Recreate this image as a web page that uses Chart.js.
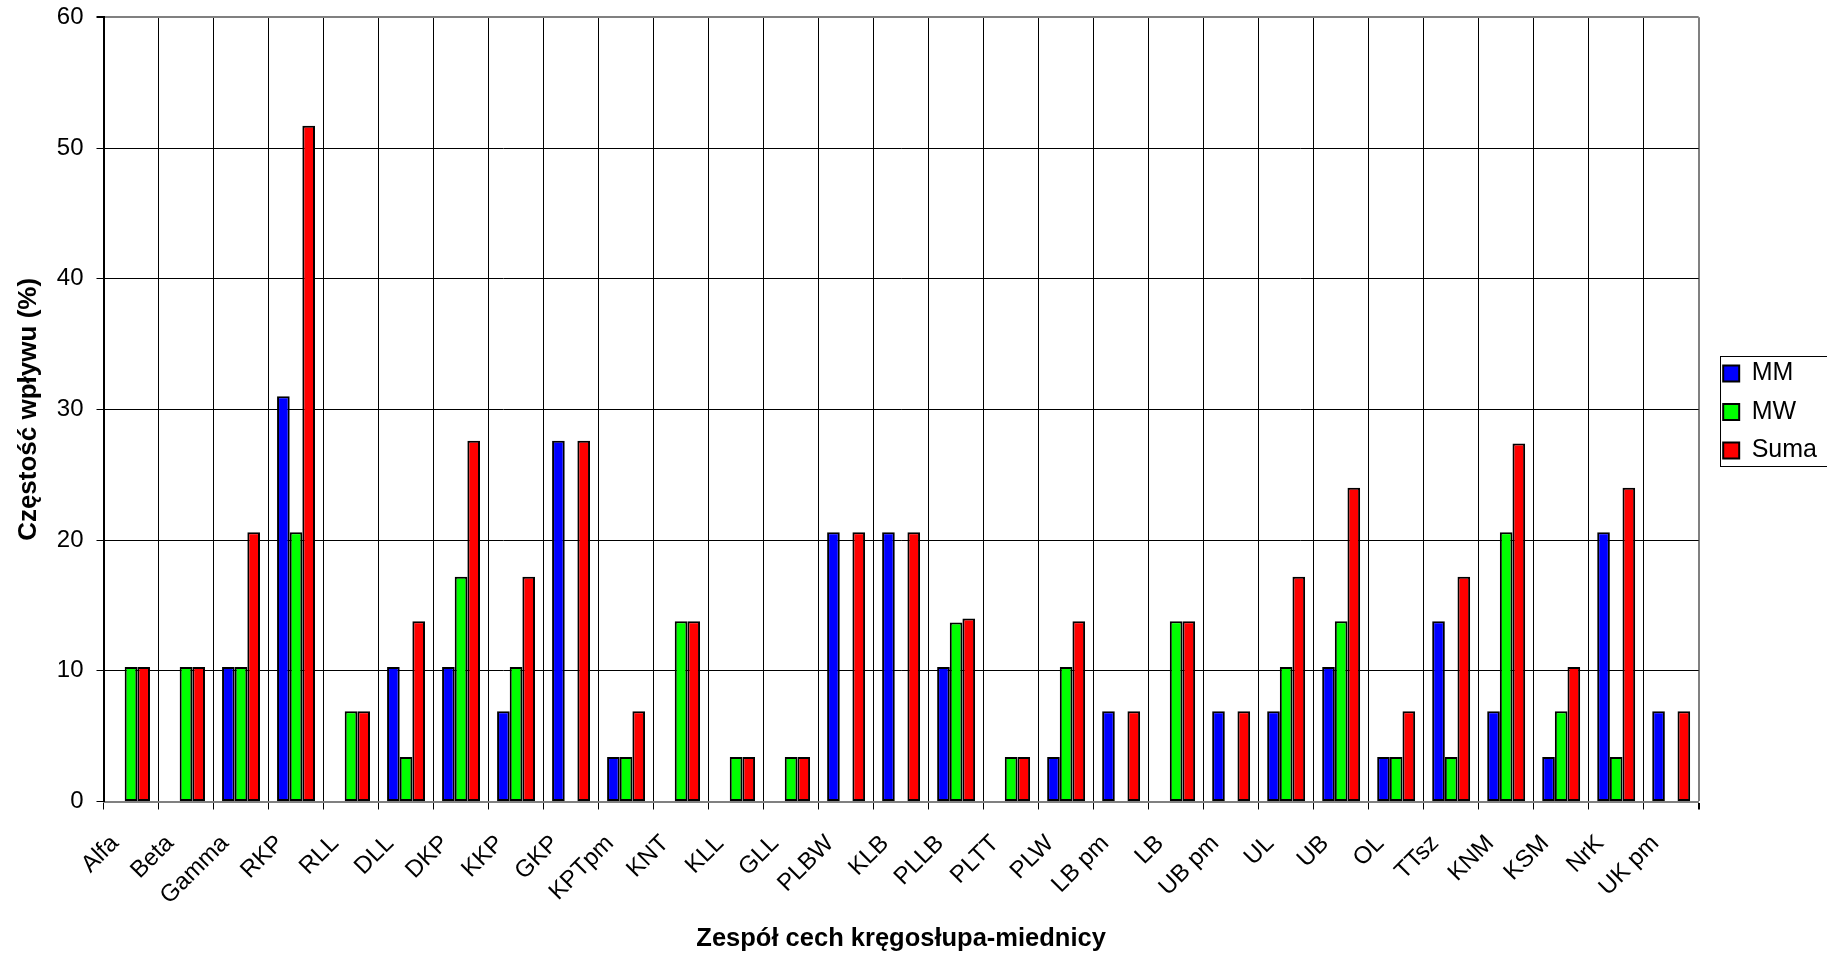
<!DOCTYPE html>
<html>
<head>
<meta charset="utf-8">
<script src="https://cdn.jsdelivr.net/npm/chart.js@4"></script>
<style>
  html, body { margin: 0; padding: 0; background: #fff; }
  #wrap { width: 1827px; height: 955px; }
</style>
</head>
<body>
<div id="wrap"><canvas id="chart" width="1827" height="955"></canvas></div>
<script>
// ---- data ----
const categories = ['Alfa', 'Beta', 'Gamma', 'RKP', 'RLL', 'DLL', 'DKP', 'KKP', 'GKP', 'KPTpm',
  'KNT', 'KLL', 'GLL', 'PLBW', 'KLB', 'PLLB', 'PLTT', 'PLW', 'LB pm', 'LB',
  'UB pm', 'UL', 'UB', 'OL', 'TTsz', 'KNM', 'KSM', 'NrK', 'UK pm'];

const mmValues = [0, 0, 10.3, 31.0, 0, 10.3, 10.3, 6.9, 27.6, 3.4,
  0, 0, 0, 20.6, 20.6, 10.3, 0, 3.4, 6.9, 0,
  6.9, 6.9, 10.3, 3.4, 13.8, 6.9, 3.4, 20.6, 6.9];

const mwValues = [10.3, 10.3, 10.3, 20.6, 6.9, 3.4, 17.2, 10.3, 0, 3.4,
  13.8, 3.4, 3.4, 0, 0, 13.7, 3.4, 10.3, 0, 13.8,
  0, 10.3, 13.8, 3.4, 3.4, 20.6, 6.9, 3.4, 0];

const sumaValues = [10.3, 10.3, 20.6, 51.7, 6.9, 13.8, 27.6, 17.2, 27.6, 6.9,
  13.8, 3.4, 3.4, 20.6, 20.6, 14.0, 3.4, 13.8, 6.9, 13.8,
  6.9, 17.2, 24.0, 6.9, 17.2, 27.4, 10.3, 24.0, 6.9];

const yTicks = [0, 10, 20, 30, 40, 50, 60];

Chart.defaults.font.family = "'Liberation Sans', Arial, sans-serif";
Chart.defaults.color = '#000';

// legend: sit it right of the plot, centred on the plot height, with a frame
const legendFrame = {
  id: 'legendFrame',
  afterLayout(chart) {
    const lg = chart.legend;
    const area = chart.chartArea;
    const w = lg.width;
    lg.left = area.right + 11;
    lg.right = lg.left + w;
    lg.top = area.top + 5;
    lg.bottom = area.bottom;
    lg.height = lg.bottom - lg.top;
  },
  afterDraw(chart) {
    const lg = chart.legend;
    const boxes = lg.legendHitBoxes;
    if (!boxes || !boxes.length) return;
    const last = boxes[boxes.length - 1];
    const ctx = chart.ctx;
    ctx.save();
    ctx.strokeStyle = '#000';
    ctx.lineWidth = 1;
    const x0 = Math.round(chart.chartArea.right + 21) + 0.5;
    const y0 = Math.round(boxes[0].top - 5) + 0.5;
    const y1 = Math.round(last.top + last.height + 3) + 0.5;
    ctx.strokeRect(x0, y0, 107, y1 - y0);
    ctx.restore();
  }
};

const ctx = document.getElementById('chart').getContext('2d');

const chart = new Chart(ctx, {
  type: 'bar',
  data: {
    labels: categories,
    datasets: [
      { label: 'MM', data: mmValues, backgroundColor: '#0000FF', borderColor: '#000', borderWidth: 2 },
      { label: 'MW', data: mwValues, backgroundColor: '#00FF00', borderColor: '#000', borderWidth: 2 },
      { label: 'Suma', data: sumaValues, backgroundColor: '#FF0000', borderColor: '#000', borderWidth: 2 }
    ]
  },
  options: {
    responsive: false,
    animation: false,
    layout: { padding: { top: 17.3, right: 11, bottom: 0, left: 0 } },
    datasets: {
      bar: { categoryPercentage: 0.69, barPercentage: 1.0, borderSkipped: false }
    },
    plugins: {
      tooltip: { enabled: false },
      legend: {
        position: 'right',
        labels: {
          boxWidth: 16,
          boxHeight: 16,
          padding: 13.5,
          color: '#000',
          font: { size: 25 }
        }
      }
    },
    scales: {
      x: {
        grid: {
          offset: true,
          color: c => c.type === 'tick' ? '#000' : '#808080',
          lineWidth: c => c.type === 'tick' ? 1 : 2,
          tickColor: '#000',
          tickLength: 8
        },
        border: { color: '#808080', width: 2 },
        ticks: {
          minRotation: 45,
          maxRotation: 45,
          autoSkip: false,
          labelOffset: -16,
          padding: 20,
          color: '#000',
          font: { size: 24 }
        },
        title: {
          display: true,
          text: 'Zespół cech kręgosłupa-miednicy',
          color: '#000',
          font: { size: 25.5, weight: 'bold' },
          padding: { top: 1, bottom: 1 }
        },
        afterFit: s => { s.height = 153.5; }
      },
      y: {
        min: 0,
        max: 60,
        afterBuildTicks: s => { s.ticks = yTicks.map(v => ({ value: v })); },
        grid: {
          color: c => (c.tick && c.tick.value === 60) ? '#808080' : '#000',
          lineWidth: c => (c.tick && c.tick.value === 60) ? 2 : 1,
          tickColor: '#000',
          tickLength: 7
        },
        border: { color: '#000', width: 2 },
        ticks: {
          padding: 13,
          color: '#000',
          font: { size: 24 }
        },
        title: {
          display: true,
          text: 'Częstość wpływu (%)',
          color: '#000',
          font: { size: 26, weight: 'bold' },
          padding: { top: 13, bottom: 13 }
        },
        afterFit: s => {
          s.width = 103.5;
          s.paddingTop = 0;
          s.paddingBottom = 0;
        }
      }
    }
  },
  plugins: [legendFrame]
});
</script>
</body>
</html>
